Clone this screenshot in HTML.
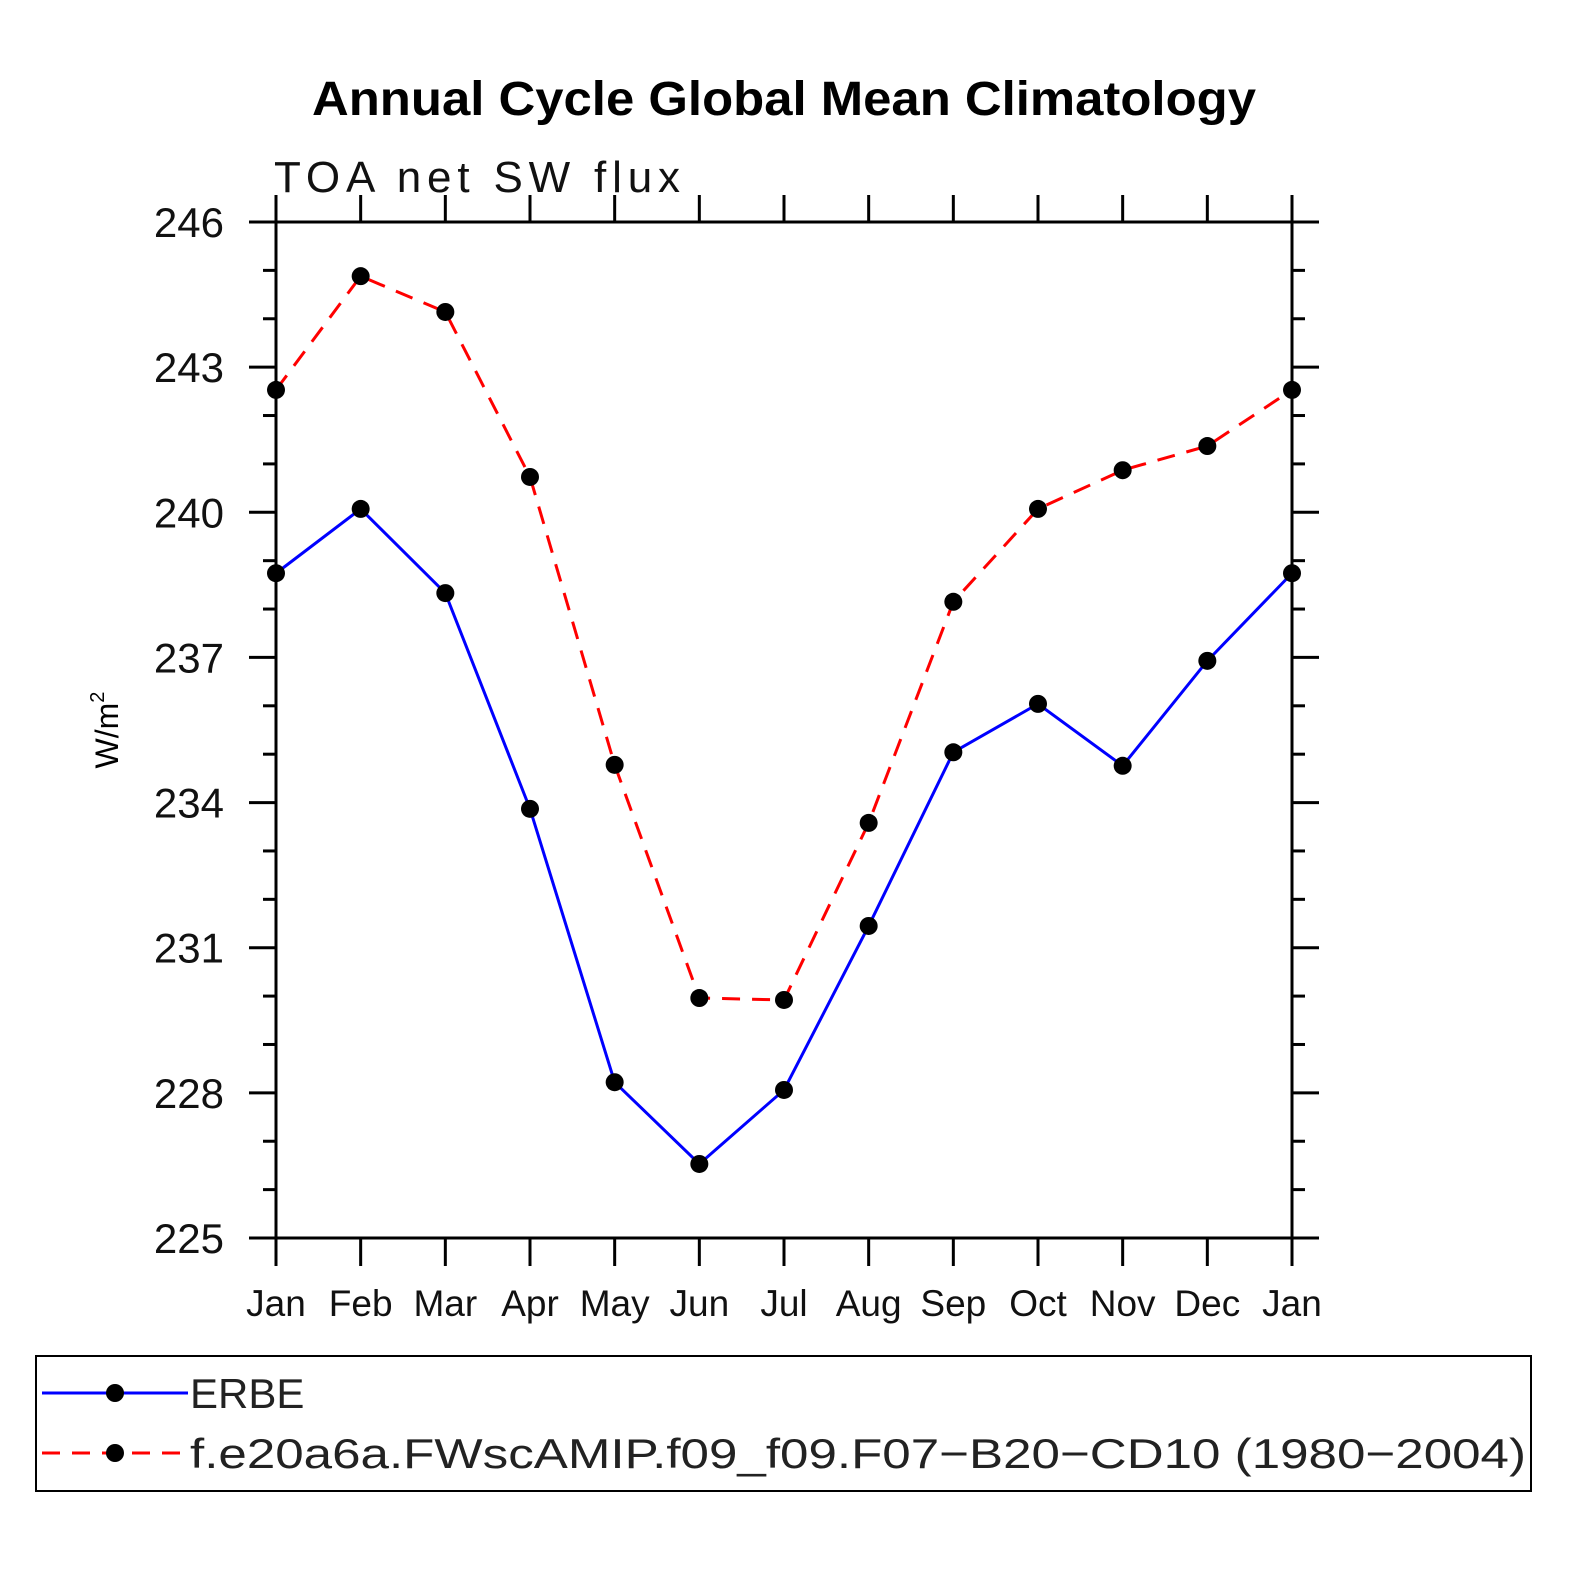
<!DOCTYPE html>
<html><head><meta charset="utf-8"><style>
html,body{margin:0;padding:0;background:#fff;overflow:hidden;width:1574px;height:1574px}
svg{display:block}
svg text{font-family:"Liberation Sans","DejaVu Sans",sans-serif}
</style></head><body>
<svg id="chart" width="1574" height="1574" viewBox="0 0 1574 1574" xmlns="http://www.w3.org/2000/svg">
<text x="784" y="115" text-anchor="middle" font-size="48" font-weight="bold" textLength="944" lengthAdjust="spacingAndGlyphs">Annual Cycle Global Mean Climatology</text>
<text x="274" y="192" font-size="44" fill="#111" textLength="406" lengthAdjust="spacing">TOA  net  SW  flux</text>
<text transform="translate(118,730) rotate(-90)" text-anchor="middle" font-size="32">W/m<tspan font-size="20" dy="-14">2</tspan></text>
<g id="axes"></g>
<g id="series"></g>
<g>
<rect x="36" y="1356" width="1495" height="135" fill="none" stroke="#000" stroke-width="2"/>
<line x1="42" y1="1393" x2="188" y2="1393" stroke="#00f" stroke-width="3"/>
<circle cx="115" cy="1393" r="9"/>
<text x="190" y="1408" font-size="42" fill="#222">ERBE</text>
<line x1="42" y1="1453" x2="188" y2="1453" stroke="#f00" stroke-width="3" stroke-dasharray="18,12"/>
<circle cx="115" cy="1453" r="9"/>
<text x="190" y="1468" font-size="42" fill="#222" textLength="1336" lengthAdjust="spacingAndGlyphs">f.e20a6a.FWscAMIP.f09_f09.F07−B20−CD10 (1980−2004)</text>
</g>
</svg>
<script>
const months=["Jan","Feb","Mar","Apr","May","Jun","Jul","Aug","Sep","Oct","Nov","Dec","Jan"];
const erbe=[238.74,240.07,238.33,233.87,228.22,226.53,228.06,231.45,235.04,236.04,234.76,236.93,238.74];
const model=[242.53,244.88,244.14,240.73,234.78,229.96,229.92,233.58,238.15,240.07,240.87,241.37,242.53];
const yTicks=[225,228,231,234,237,240,243,246];
const NS="http://www.w3.org/2000/svg";
const X0=276,X1=1292,Y0=1238,Y1=222,YMIN=225,YMAX=246;
const xs=i=>X0+(X1-X0)*i/(months.length-1);
const ys=v=>Y0-(Y0-Y1)*(v-YMIN)/(YMAX-YMIN);
function mk(tag,attrs,parent){const e=document.createElementNS(NS,tag);for(const k in attrs)e.setAttribute(k,attrs[k]);parent.appendChild(e);return e;}
const ax=document.getElementById('axes');
const frame=mk('rect',{x:X0,y:Y1,width:X1-X0,height:Y0-Y1,fill:'none',stroke:'#000','stroke-width':3},ax);


months.forEach((m,i)=>{
  const x=xs(i);
  mk('line',{x1:x,y1:Y0,x2:x,y2:Y0+28,stroke:'#000','stroke-width':3},ax);
  mk('line',{x1:x,y1:Y1,x2:x,y2:Y1-27,stroke:'#000','stroke-width':3},ax);
  const t=mk('text',{x:x,y:1316,'text-anchor':'middle','font-size':37,fill:'#111'},ax);
  t.textContent=m;
  
  
});
for(let v=YMIN;v<=YMAX;v++){
  const y=ys(v);const major=(v-YMIN)%3===0;const L=major?27:13;
  mk('line',{x1:X0-L,y1:y,x2:X0,y2:y,stroke:'#000','stroke-width':3},ax);
  mk('line',{x1:X1,y1:y,x2:X1+L,y2:y,stroke:'#000','stroke-width':3},ax);
}
yTicks.forEach(v=>{
  const t=mk('text',{x:224,y:ys(v)+15,'text-anchor':'end','font-size':42,fill:'#111'},ax);
  t.textContent=v;
  
  
});
const sg=document.getElementById('series');
function series(vals,color,dash,name){
  const p=mk('polyline',{points:vals.map((v,i)=>xs(i)+','+ys(v)).join(' '),fill:'none',stroke:color,'stroke-width':3,'stroke-dasharray':dash},sg);
  
  
  vals.forEach((v,i)=>{
    const c=mk('circle',{cx:xs(i),cy:ys(v),r:9,fill:'#000'},sg);
    
    
  });
}
series(erbe,'#00f','none','erbe');
series(model,'#f00','18,12','model');
</script>
</body></html>
